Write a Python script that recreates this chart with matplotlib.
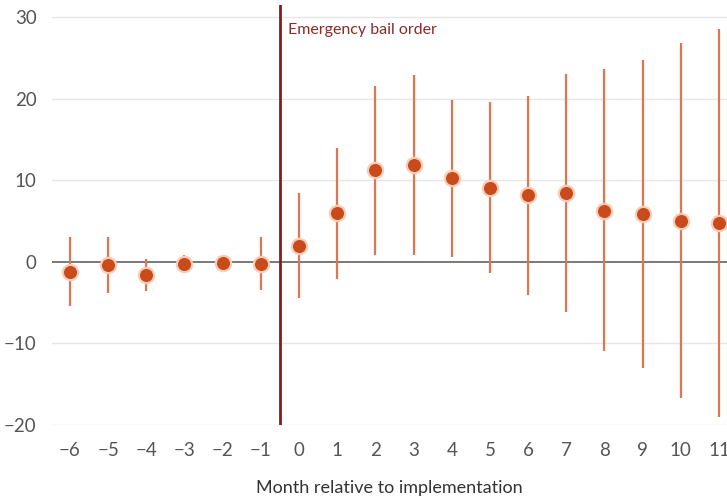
import numpy as np
import matplotlib.pyplot as plt

plt.rcParams['font.family'] = ['Lato', 'DejaVu Sans']

months = [-6, -5, -4, -3, -2, -1, 0, 1, 2, 3, 4, 5, 6, 7, 8, 9, 10, 11]
estimate = [-1.2, -0.4, -1.6, -0.3, -0.1, -0.2, 2.0, 6.0, 11.25, 11.9, 10.3, 9.1, 8.2, 8.4, 6.3, 5.9, 5.0, 4.8]
ci_low = [-5.4, -3.8, -3.6, -1.4, -0.5, -3.4, -4.4, -2.1, 0.9, 0.9, 0.6, -1.4, -4.0, -6.2, -10.9, -13.0, -16.7, -19.0]
ci_high = [3.1, 3.0, 0.4, 0.8, 0.4, 3.1, 8.5, 14.0, 21.6, 22.9, 19.9, 19.6, 20.4, 23.0, 23.6, 24.7, 26.8, 28.5]
y_ticks = [-20, -10, 0, 10, 20, 30]

x = np.array(months)
est = np.array(estimate)
yerr = [est - np.array(ci_low), np.array(ci_high) - est]

fig = plt.figure(figsize=(7.27, 4.96), dpi=100)
ax = fig.add_axes([0.0715, 0.143, 0.9285, 0.847])

# grid and zero line
for t in y_ticks:
    if t != 0:
        ax.axhline(t, color='#e6e6e6', lw=1, zorder=0)
ax.axhline(0, color='#555555', lw=1.1, zorder=1)

# event line
ax.axvline(-0.5, color='#8b1a1a', lw=2, zorder=2)
ax.text(-0.3, 28.4, 'Emergency bail order', color='#8b2a2a', fontsize=11.5,
        ha='left', va='center')

ax.errorbar(x, est, yerr=yerr, fmt='none', ecolor='#dd7652', elinewidth=1.6, zorder=3)
ax.plot(x, est, 'o', color='#c94a1a', markersize=11,
        markeredgecolor='#f6cdb8', markeredgewidth=1.6, zorder=4)

ax.set_xlim(-6.47, 11.21)
ax.set_ylim(-20, 31.5)
ax.set_xticks(months)
ax.set_xticklabels([str(m).replace('-', '\u2212') for m in months])
ax.set_yticks(y_ticks)
ax.set_yticklabels([str(t).replace('-', '\u2212') for t in y_ticks])
ax.tick_params(axis='both', length=0, labelsize=13.5, colors='#555555')
ax.tick_params(axis='x', pad=12)
ax.tick_params(axis='y', pad=11)
for s in ax.spines.values():
    s.set_visible(False)

ax.set_xlabel('Month relative to implementation', fontsize=13, color='#333333', labelpad=15)

fig.savefig('out.png', dpi=100)
